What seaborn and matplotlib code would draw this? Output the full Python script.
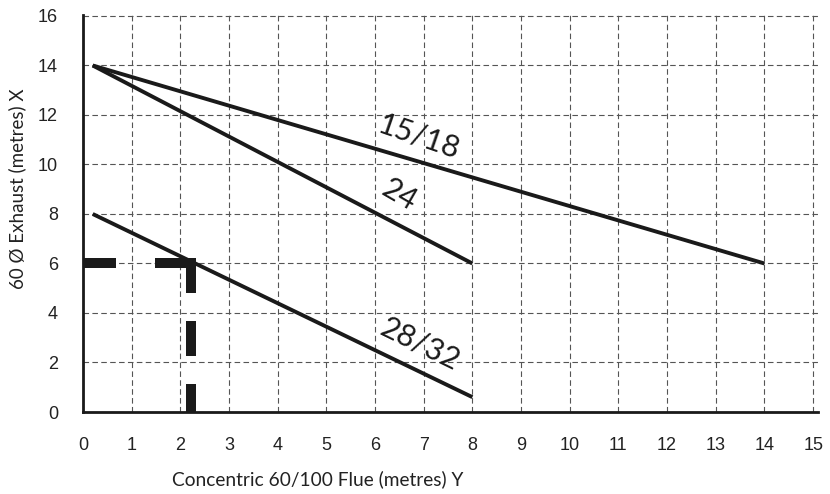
import pandas as pd
import numpy as np
import matplotlib
import matplotlib.pyplot as plt
import seaborn as sns

matplotlib.use('Agg')

# Line endpoints
series = ['15/18', '24', '28/32']
x_start = [0.2, 0.2, 0.2]
x_end = [14, 8, 8]
y_start = [14, 14, 8]
y_end = [6, 6, 0.6]

# Label placement (data coords) and rotation
label_x = [6.9, 6.49, 6.93]
label_y = [11.1, 8.77, 2.75]
label_rot = [-19, -30, -26]

# Example reading (thick dashed)
example_x = 2.22
example_y = 6.04

x_ticks = list(range(0, 16))
y_ticks = list(range(0, 17, 2))


def main():
    rows = []
    for name, x0, x1, y0, y1 in zip(series, x_start, x_end, y_start, y_end):
        rows.append({'series': name, 'x': x0, 'y': y0})
        rows.append({'series': name, 'x': x1, 'y': y1})
    df = pd.DataFrame(rows)

    sns.set_style('white')
    plt.rcParams['font.family'] = ['Liberation Sans', 'DejaVu Sans']

    fig = plt.figure(figsize=(8.3, 4.94), dpi=100)
    ax = fig.add_axes([83 / 830, 1 - 412 / 494, (818 - 83) / 830, (412 - 15) / 494])

    sns.lineplot(data=df, x='x', y='y', units='series', estimator=None,
                 color='#1a1a1a', linewidth=2.8, ax=ax, legend=False,
                 solid_capstyle='butt')

    # thick dashed example lines
    lw = 7.2
    ax.plot([0, example_x], [example_y, example_y], color='#1a1a1a',
            linewidth=lw, linestyle=(0, (3.3, 3.9)), dash_capstyle='butt')
    ax.plot([example_x, example_x], [example_y + 0.2, -0.05], color='#1a1a1a',
            linewidth=lw, linestyle=(0, (3.5, 2.8)), dash_capstyle='butt',
            clip_on=False)

    for name, lx, ly, rot in zip(series, label_x, label_y, label_rot):
        ax.text(lx, ly, name, rotation=rot, ha='center', va='center',
                fontsize=22, family=['Lato', 'DejaVu Sans'], color='#1a1a1a')

    ax.set_xlim(0, 15.1)
    ax.set_ylim(0, 16.04)
    ax.set_xticks(x_ticks)
    ax.set_yticks(y_ticks)
    ax.grid(True, color='#555555', linestyle=(0, (5, 3)), linewidth=0.8)
    ax.set_axisbelow(True)

    for side in ['top', 'right']:
        ax.spines[side].set_visible(False)
    for side in ['left', 'bottom']:
        ax.spines[side].set_color('#1a1a1a')
        ax.spines[side].set_linewidth(2)

    ax.tick_params(axis='both', direction='out', length=12, width=1.4,
                   color='#1a1a1a', labelsize=13, labelcolor='#222222', pad=6)

    ax.set_xlabel('Concentric 60/100 Flue (metres) Y', fontsize=13.8,
                  family=['Lato', 'DejaVu Sans'], color='#222222')
    ax.xaxis.set_label_coords((318 - 83) / 735, -(470 - 412) / 397)
    ax.set_ylabel('60 Ø Exhaust (metres) X', fontsize=13.5,
                  family=['Lato', 'DejaVu Sans'], color='#222222')
    ax.yaxis.set_label_coords(-(83 - 26) / 735, (412 - 189) / 397)

    plt.savefig('out.png', dpi=100)
    plt.close()


if __name__ == "__main__":
    main()
